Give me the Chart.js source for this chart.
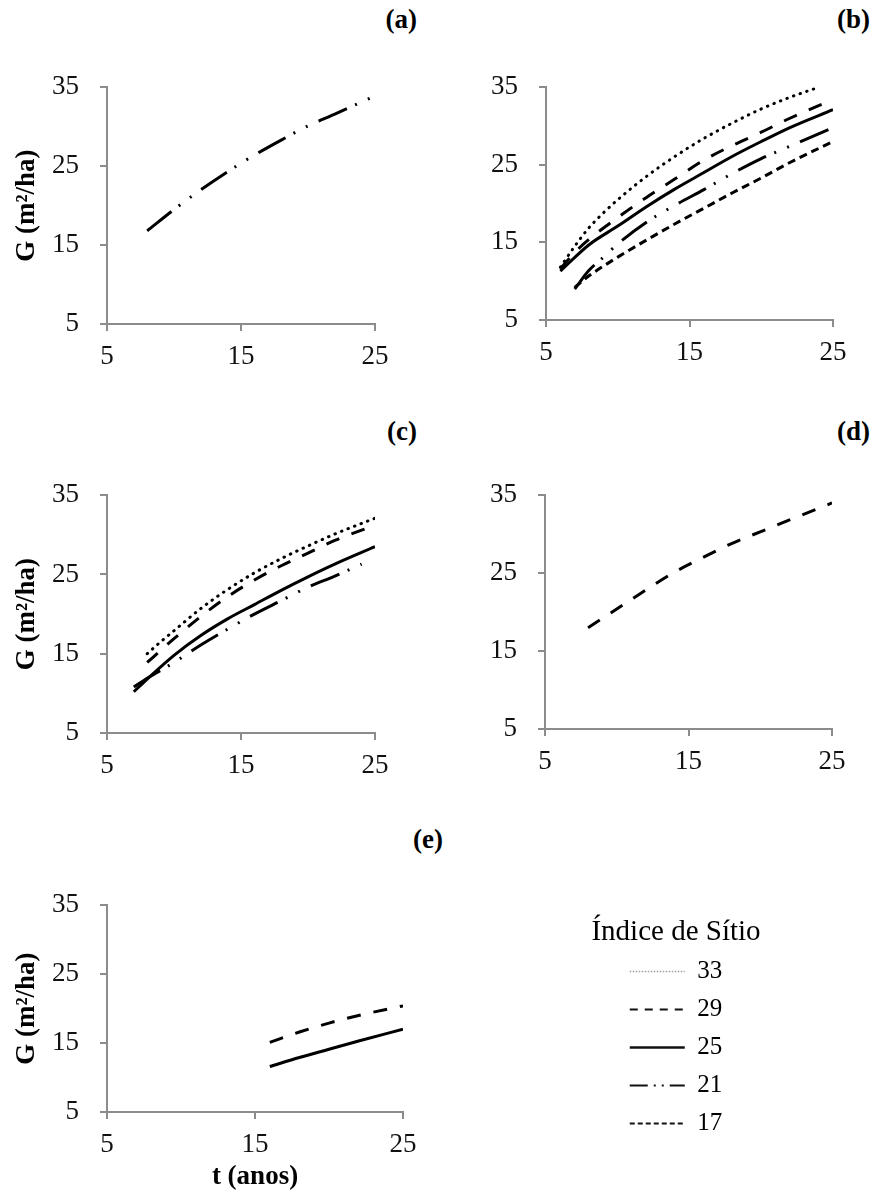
<!DOCTYPE html>
<html><head><meta charset="utf-8">
<script src="https://cdn.jsdelivr.net/npm/chart.js@4"></script>
<style>
html,body{margin:0;padding:0;background:#fff;}
body{width:877px;height:1199px;position:relative;overflow:hidden;font-family:'Liberation Serif',serif;}
canvas{position:absolute;}
.lab{position:absolute;width:100px;font:bold 27px 'Liberation Serif',serif;color:#000;text-align:right;line-height:1;}
</style></head><body>
<canvas id="pa"></canvas><canvas id="pb"></canvas><canvas id="pc"></canvas><canvas id="pd"></canvas><canvas id="pe"></canvas><canvas id="leg"></canvas>
<div class="lab" style="left:317px;top:6px">(a)</div>
<div class="lab" style="left:770px;top:6px">(b)</div>
<div class="lab" style="left:317px;top:418px">(c)</div>
<div class="lab" style="left:770px;top:418px">(d)</div>
<div class="lab" style="left:343px;top:826px">(e)</div>
<script>
// ---- data (t in years, G in m²/ha) ----
const siteIndex = ['33', '29', '25', '21', '17'];
const legendTitle = 'Índice de Sítio';
const yAxisTitle = 'G (m²/ha)';
const xAxisTitle = 't (anos)';
const xTicks = [5, 15, 25];
const yTicks = [5, 15, 25, 35];

// (a)
const tA21 = [8, 10, 12, 14, 16, 18, 20, 22, 25];
const gA21 = [16.8, 19.5, 22.0, 24.3, 26.4, 28.3, 30.1, 31.6, 33.9];
// (b)
const tB33 = [6, 7, 8, 9, 10, 12, 14, 16, 18, 20, 22, 24];
const gB33 = [11.8, 14.5, 16.9, 18.8, 20.5, 23.5, 26.1, 28.4, 30.4, 32.2, 33.7, 35.0];
const tB29 = [6, 7, 8, 10, 12, 14, 16, 18, 20, 22, 25];
const gB29 = [11.6, 13.7, 15.4, 18.2, 20.8, 23.2, 25.6, 27.5, 29.2, 31.0, 33.4];
const tB25 = [6, 8, 10, 12, 14, 16, 18, 20, 22, 25];
const gB25 = [11.3, 14.7, 17.1, 19.6, 21.9, 24.0, 26.1, 28.0, 29.8, 32.1];
const tB21 = [7, 8, 9, 10, 12, 14, 16, 18, 20, 22, 25];
const gB21 = [9.0, 11.4, 13.1, 14.8, 17.6, 19.8, 21.8, 23.9, 25.8, 27.4, 29.8];
const tB17 = [7, 8, 10, 12, 14, 16, 18, 20, 22, 25];
const gB17 = [9.2, 10.7, 13.1, 15.3, 17.4, 19.4, 21.4, 23.3, 25.3, 28.0];
// (c)
const tC33 = [8, 9, 10, 12, 14, 16, 18, 20, 22, 25];
const gC33 = [15.0, 16.5, 17.9, 20.7, 23.1, 25.2, 27.0, 28.6, 30.1, 32.1];
const tC29 = [8, 9, 10, 12, 14, 16, 18, 20, 22, 25];
const gC29 = [13.9, 15.4, 16.9, 19.7, 22.2, 24.3, 26.1, 27.7, 29.3, 31.2];
const tC25 = [7, 8, 10, 12, 14, 16, 18, 20, 22, 25];
const gC25 = [10.2, 11.8, 14.8, 17.3, 19.4, 21.2, 23.0, 24.7, 26.3, 28.5];
const tC21 = [7, 8, 9, 10, 12, 14, 16, 18, 20, 22, 24];
const gC21 = [10.8, 11.9, 12.9, 13.9, 16.1, 18.1, 20.0, 21.7, 23.4, 24.8, 26.3];
// (d)
const tD29 = [8, 10, 12, 14, 16, 18, 20, 22, 25];
const gD29 = [18.0, 20.4, 22.8, 25.1, 27.0, 28.8, 30.3, 31.8, 34.0];
// (e)
const tE29 = [16, 18, 20, 22, 25];
const gE29 = [15.1, 16.6, 17.9, 19.0, 20.4];
const tE25 = [16, 18, 20, 22, 25];
const gE25 = [11.6, 12.9, 14.1, 15.3, 17.0];

// ---- styles ----
const FONT = 'Liberation Serif';
const AXIS = '#8c8c8c';
const LINE_STYLE = {
  '33': {borderColor: '#000', borderWidth: 3, borderDash: [0.5, 6.5], borderCapStyle: 'round'},
  '29': {borderColor: '#000', borderWidth: 3, borderDash: [14, 13], borderCapStyle: 'butt'},
  '25': {borderColor: '#000', borderWidth: 3, borderDash: [], borderCapStyle: 'butt'},
  '21': {borderColor: '#000', borderWidth: 3, borderDash: [31, 9, 2, 12, 2, 12], borderCapStyle: 'butt'},
  '17': {borderColor: '#000', borderWidth: 3, borderDash: [8, 5], borderCapStyle: 'butt'}
};
const LEGEND_STYLE = {
  '33': {borderColor: '#9a9a9a', borderWidth: 1.5, borderDash: [1.5, 1.5]},
  '29': {borderColor: '#111', borderWidth: 2, borderDash: [8, 7]},
  '25': {borderColor: '#111', borderWidth: 2.5, borderDash: []},
  '21': {borderColor: '#111', borderWidth: 2, borderDash: [18, 6, 2, 6, 2, 6]},
  '17': {borderColor: '#111', borderWidth: 2, borderDash: [5, 3]}
};

function pts(t, g) { return t.map((x, i) => ({x: x, y: g[i]})); }
function series(site, t, g) {
  return Object.assign({label: site, data: pts(t, g), pointRadius: 0, fill: false,
    cubicInterpolationMode: 'monotone'}, LINE_STYLE[site]);
}

function panel(id, c, ca, datasets, yTitle, xTitle) {
  const el = document.getElementById(id);
  el.style.left = c.l + 'px'; el.style.top = c.t + 'px';
  el.width = c.w; el.height = c.h;
  el.style.width = c.w + 'px'; el.style.height = c.h + 'px';
  const yW = ca.l - c.l, xH = (c.t + c.h) - ca.b;
  const tickFont = {family: FONT, size: 27};
  new Chart(el, {
    type: 'line',
    data: {datasets: datasets},
    options: {
      responsive: false, animation: false, devicePixelRatio: 1,
      layout: {padding: {left: 0, bottom: 0, top: ca.t - c.t, right: (c.l + c.w) - ca.r}},
      plugins: {legend: {display: false}, tooltip: {enabled: false}},
      scales: {
        x: {type: 'linear', min: xTicks[0], max: xTicks[xTicks.length - 1],
          afterBuildTicks: s => { s.ticks = xTicks.map(v => ({value: v})); },
          ticks: {padding: 10, color: '#111', font: tickFont, maxRotation: 0, autoSkip: false},
          grid: {drawOnChartArea: false, color: AXIS, lineWidth: 2, tickLength: 7},
          border: {color: AXIS, width: 2},
          title: xTitle ? {display: true, text: xTitle, color: '#000',
            font: {family: FONT, size: 27, weight: 'bold'}, padding: {top: 0, bottom: 6}} : {display: false},
          afterFit: s => { s.height = xH; }},
        y: {type: 'linear', min: yTicks[0], max: yTicks[yTicks.length - 1],
          afterBuildTicks: s => { s.ticks = yTicks.map(v => ({value: v})); },
          ticks: {padding: 21, color: '#111', font: tickFont, autoSkip: false},
          grid: {drawOnChartArea: false, color: AXIS, lineWidth: 2, tickLength: 7},
          border: {color: AXIS, width: 2},
          title: yTitle ? {display: true, text: yTitle, color: '#000',
            font: {family: FONT, size: 27, weight: 'bold'}, padding: {top: 11, bottom: 0}} : {display: false},
          afterFit: s => { s.width = yW; }}
      }
    }
  });
}

panel('pa', {l: 0, t: 50, w: 440, h: 335}, {l: 107, t: 84, r: 375, b: 324},
  [series('21', tA21, gA21)], yAxisTitle, null);
panel('pb', {l: 440, t: 50, w: 437, h: 335}, {l: 546, t: 85, r: 833, b: 320},
  [series('33', tB33, gB33), series('29', tB29, gB29), series('25', tB25, gB25),
   series('21', tB21, gB21), series('17', tB17, gB17)], null, null);
panel('pc', {l: 0, t: 458, w: 440, h: 335}, {l: 107, t: 493, r: 375, b: 733},
  [series('33', tC33, gC33), series('29', tC29, gC29), series('25', tC25, gC25),
   series('21', tC21, gC21)], yAxisTitle, null);
panel('pd', {l: 440, t: 458, w: 437, h: 335}, {l: 545, t: 494, r: 832, b: 729},
  [series('29', tD29, gD29)], null, null);
panel('pe', {l: 0, t: 868, w: 440, h: 331}, {l: 107, t: 903, r: 403, b: 1112},
  [series('29', tE29, gE29), series('25', tE25, gE25)], yAxisTitle, xAxisTitle);

// ---- legend (separate legend-only chart, one item per row) ----
(function () {
  const el = document.getElementById('leg');
  const c = {l: 581, t: 910, w: 190, h: 289};
  el.style.left = c.l + 'px'; el.style.top = c.t + 'px';
  el.width = c.w; el.height = c.h;
  el.style.width = c.w + 'px'; el.style.height = c.h + 'px';
  new Chart(el, {
    type: 'line',
    data: {datasets: siteIndex.map(s => Object.assign({label: s, data: []}, LEGEND_STYLE[s]))},
    options: {
      responsive: false, animation: false, devicePixelRatio: 1,
      layout: {padding: 0},
      scales: {x: {display: false}, y: {display: false}},
      plugins: {
        tooltip: {enabled: false},
        legend: {
          display: true, position: 'top', align: 'center', maxHeight: 289,
          title: {display: true, text: legendTitle, color: '#000', padding: {top: 8, bottom: -1},
            font: {family: FONT, size: 29, lineHeight: 1}},
          labels: {
            usePointStyle: true, pointStyle: 'line', pointStyleWidth: 55, padding: 13,
            color: '#000', font: {family: FONT, size: 25},
            generateLabels: chart => chart.data.datasets.map((d, i) => ({
              text: d.label, fillStyle: d.borderColor, strokeStyle: d.borderColor,
              lineWidth: d.borderWidth, lineDash: d.borderDash, lineCap: 'butt',
              pointStyle: 'line', hidden: false, datasetIndex: i, fontColor: '#000'
            }))
          }
        }
      }
    }
  });
})();
</script>
</body></html>
